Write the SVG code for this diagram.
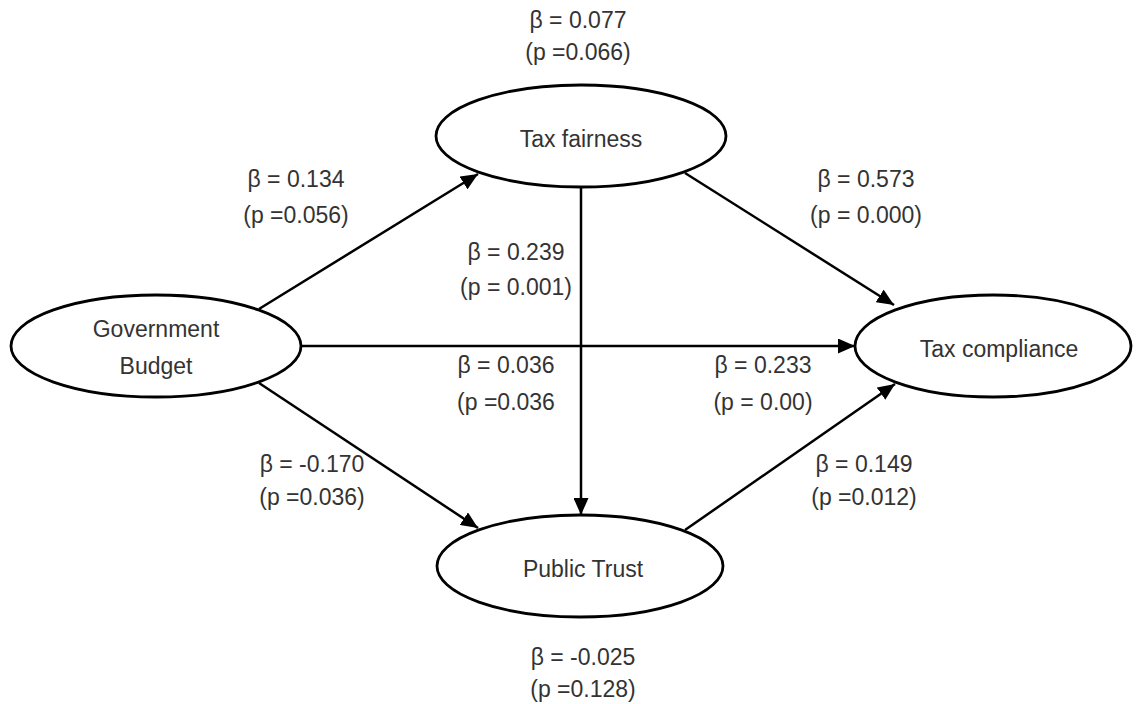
<svg xmlns="http://www.w3.org/2000/svg" width="1137" height="704" viewBox="0 0 1137 704">
<style>
.node{fill:#fff;stroke:#000;stroke-width:2.8}
.t{font-family:"Liberation Sans",Arial,sans-serif;font-size:23px;fill:#333;text-anchor:middle}
.c{stroke:#000;stroke-width:2.5;fill:none}
</style>
<defs>
<marker id="ah" markerWidth="17" markerHeight="15" refX="17" refY="7.5" orient="auto" markerUnits="userSpaceOnUse">
<path d="M0,0 L17,7.5 L0,15 Z" fill="#000"/>
</marker>
</defs>
<rect width="1137" height="704" fill="#fff"/>
<g id="connectors">
<line class="c" x1="259" y1="309" x2="478" y2="174" marker-end="url(#ah)"/>
<line class="c" x1="302" y1="346" x2="855" y2="346" marker-end="url(#ah)"/>
<line class="c" x1="259" y1="383" x2="478" y2="528" marker-end="url(#ah)"/>
<line class="c" x1="581" y1="188" x2="581" y2="515" marker-end="url(#ah)"/>
<line class="c" x1="685" y1="173" x2="894" y2="305" marker-end="url(#ah)"/>
<line class="c" x1="685" y1="530" x2="895" y2="384" marker-end="url(#ah)"/>
</g>
<g id="tax-fairness">
<ellipse class="node" cx="581" cy="136" rx="145" ry="51"/>
<text class="t" x="581" y="147">Tax fairness</text>
</g>
<g id="government-budget">
<ellipse class="node" cx="156" cy="346" rx="145" ry="51"/>
<text class="t" x="156" y="337">Government</text>
<text class="t" x="156" y="374">Budget</text>
</g>
<g id="tax-compliance">
<ellipse class="node" cx="993" cy="346" rx="138" ry="51"/>
<text class="t" x="999" y="357">Tax compliance</text>
</g>
<g id="public-trust">
<ellipse class="node" cx="580" cy="566" rx="143" ry="51"/>
<text class="t" x="583" y="577">Public Trust</text>
</g>
<g id="labels">
<text class="t" x="578" y="28">β = 0.077</text>
<text class="t" x="578" y="60">(p =0.066)</text>
<text class="t" x="296" y="187">β = 0.134</text>
<text class="t" x="296" y="223">(p =0.056)</text>
<text class="t" x="866" y="187">β = 0.573</text>
<text class="t" x="866" y="223">(p = 0.000)</text>
<text class="t" x="516" y="260">β = 0.239</text>
<text class="t" x="516" y="295">(p = 0.001)</text>
<text class="t" x="506" y="373">β = 0.036</text>
<text class="t" x="506" y="410">(p =0.036</text>
<text class="t" x="763" y="373">β = 0.233</text>
<text class="t" x="763" y="410">(p = 0.00)</text>
<text class="t" x="312" y="472">β = -0.170</text>
<text class="t" x="312" y="505">(p =0.036)</text>
<text class="t" x="864" y="472">β = 0.149</text>
<text class="t" x="864" y="505">(p =0.012)</text>
<text class="t" x="583" y="665">β = -0.025</text>
<text class="t" x="583" y="697">(p =0.128)</text>
</g>
</svg>
